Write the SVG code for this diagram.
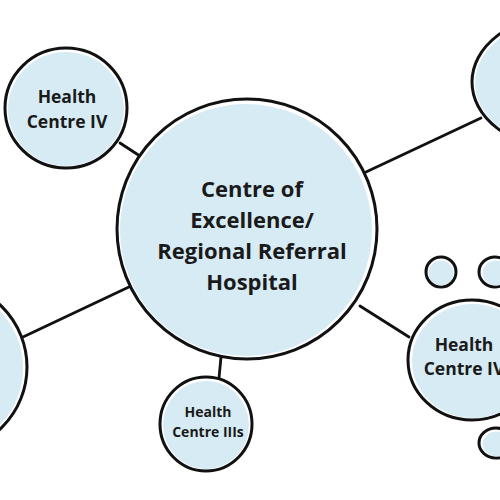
<svg xmlns="http://www.w3.org/2000/svg" width="500" height="500" viewBox="0 0 500 500">
<style>
.ring{fill:#ffffff;stroke:#111;stroke-width:3}
.fill{fill:#d7ebf4}
.edge{stroke:#111;stroke-width:2.8;fill:none;stroke-linecap:round}
text{font-family:"Open Sans","DejaVu Sans",sans-serif;font-weight:700;fill:#1a1a1a;text-anchor:middle}
.big{font-size:22px}
.mid{font-size:17.5px}
.small{font-size:14px}
</style>
<rect width="500" height="500" fill="#ffffff"/>
<g id="connectors">
<line class="edge" x1="120" y1="143" x2="146" y2="160"/>
<line class="edge" x1="366" y1="172" x2="481" y2="118"/>
<line class="edge" x1="23" y1="337" x2="131" y2="286"/>
<line class="edge" x1="221" y1="357" x2="219" y2="378"/>
<line class="edge" x1="360" y1="306" x2="409" y2="337"/>
</g>
<g id="hospital">
<ellipse class="ring" cx="247" cy="229" rx="130" ry="130"/>
<ellipse class="fill" cx="246" cy="230" rx="126" ry="126"/>
<text class="big" x="252" y="197">Centre of</text>
<text class="big" x="252" y="228">Excellence/</text>
<text class="big" x="252" y="259">Regional Referral</text>
<text class="big" x="252" y="290">Hospital</text>
</g>
<g id="hc4-topleft">
<ellipse class="ring" cx="66" cy="108" rx="61" ry="60"/>
<ellipse class="fill" cx="66" cy="109" rx="58" ry="57"/>
<text class="mid" x="67" y="103">Health</text>
<text class="mid" x="67" y="128">Centre IV</text>
</g>
<g id="topright">
<ellipse class="ring" cx="560" cy="82" rx="88" ry="66"/>
<ellipse class="fill" cx="560" cy="83" rx="85" ry="63"/>
</g>
<g id="left">
<circle class="ring" cx="-58" cy="367" r="85"/>
<circle class="fill" cx="-59" cy="368" r="82"/>
</g>
<g id="hc3">
<ellipse class="ring" cx="206" cy="424" rx="46" ry="47"/>
<ellipse class="fill" cx="206" cy="425" rx="43" ry="44"/>
<text class="small" x="208" y="417">Health</text>
<text class="small" x="208" y="437">Centre IIIs</text>
</g>
<g id="hc4-right">
<ellipse class="ring" cx="472" cy="360" rx="64" ry="60"/>
<ellipse class="fill" cx="473" cy="361" rx="61" ry="57"/>
<text class="mid" x="464" y="351">Health</text>
<text class="mid" x="464" y="375">Centre IV</text>
</g>
<g id="dot1">
<ellipse class="ring" cx="441" cy="272" rx="15" ry="15"/>
<ellipse class="fill" cx="441" cy="273" rx="12.5" ry="12.5"/>
</g>
<g id="dot2">
<ellipse class="ring" cx="495" cy="272" rx="16" ry="15"/>
<ellipse class="fill" cx="496" cy="273" rx="13.5" ry="12.5"/>
</g>
<g id="dot3">
<ellipse class="ring" cx="496" cy="443" rx="17" ry="15"/>
<ellipse class="fill" cx="497" cy="444" rx="14.5" ry="12.5"/>
</g>
</svg>
